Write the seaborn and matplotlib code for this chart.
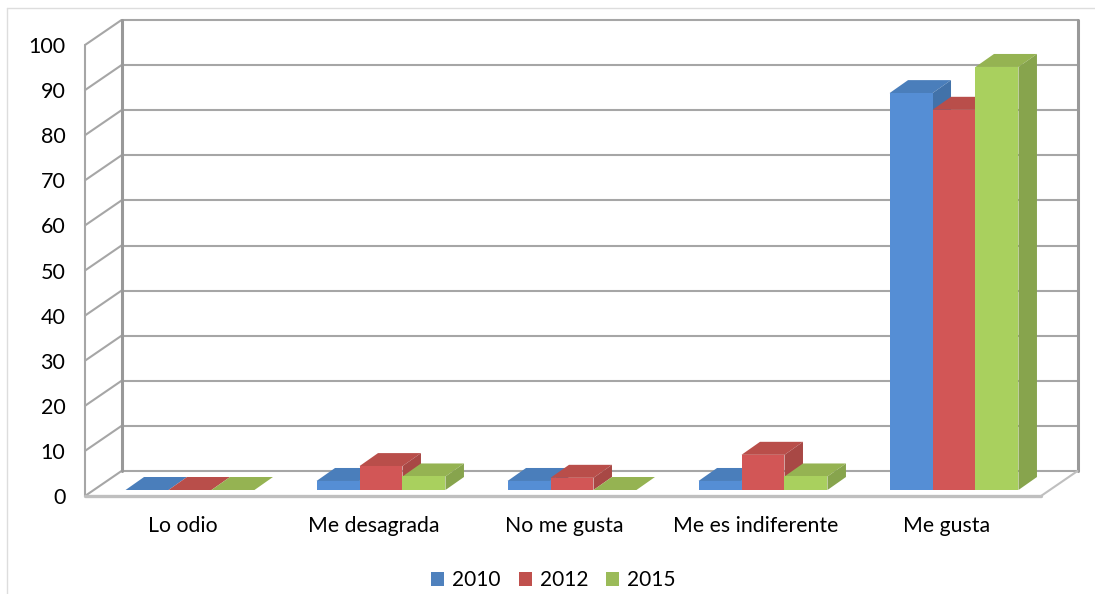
import pandas as pd
import matplotlib.pyplot as plt
import seaborn as sns
from matplotlib.lines import Line2D
from matplotlib.patches import Patch, Polygon

categories = ['Lo odio', 'Me desagrada', 'No me gusta', 'Me es indiferente', 'Me gusta']
years = ['2010', '2012', '2015']
values_2010 = [0, 2, 2, 2, 88]
values_2012 = [0, 5.3, 2.7, 7.8, 84.3]
values_2015 = [0, 3, 0, 3, 93.8]
y_ticks = [0, 10, 20, 30, 40, 50, 60, 70, 80, 90, 100]

front_colors = ['#558ED5', '#D25656', '#A9D05E']
top_colors = ['#4A7EBB', '#B94E4A', '#95B352']
side_colors = ['#4272A9', '#A84845', '#87A44D']
legend_colors = ['#4F81BD', '#C0504D', '#9BBB59']
GRID = '#A6A6A6'

# pixel scale of the plot, category step and one y unit
PX_X = 191.0
PX_Y = 4.51

# bar depth and floor depth, in data units
BAR_DX = 18.5 / PX_X
BAR_DY = 13 / PX_Y
FLOOR_DX = 36.5 / PX_X
FLOOR_DY = 25 / PX_Y
FRONT_X = -0.5 - 9.5 / PX_X
FRONT_Y = -6 / PX_Y


def main():
    df = pd.DataFrame({
        'category': categories * 3,
        'year': sum([[y] * len(categories) for y in years], []),
        'value': values_2010 + values_2012 + values_2015,
    })

    sns.set_style('white')
    plt.rcParams['font.family'] = ['Lato', 'DejaVu Sans']
    fig = plt.figure(figsize=(10.95, 5.94), dpi=100)

    # axes sized so x=-0.5..4.5 is 94.5..1049.5 px and y=0 is at 490 px
    y_min, y_max = -2, 106
    ax = fig.add_axes([94.5 / 1095, (594 - 490 + y_min * PX_Y) / 594,
                       955 / 1095, (y_max - y_min) * PX_Y / 594])

    sns.barplot(data=df, x='category', y='value', hue='year', order=categories,
                hue_order=years, palette=front_colors, width=0.675, saturation=1,
                legend=False, ax=ax)
    ax.set_xlim(-0.5, 4.5)
    ax.set_ylim(y_min, y_max)
    sns.despine(ax=ax, left=True, bottom=True)
    ax.set_xlabel('')
    ax.set_ylabel('')

    # walls and floor
    x_left = FRONT_X
    x_right = FRONT_X + 956 / PX_X
    for v in y_ticks:
        y_f = FRONT_Y + v
        ax.plot([x_left, x_left + FLOOR_DX], [y_f, y_f + FLOOR_DY], color=GRID, lw=1.5,
                clip_on=False, zorder=1)
        ax.plot([x_left + FLOOR_DX, x_right + FLOOR_DX], [y_f + FLOOR_DY] * 2, color=GRID,
                lw=1.5, clip_on=False, zorder=1)
    ax.plot([x_left, x_left], [FRONT_Y, FRONT_Y + 100], color=GRID, lw=1.5, clip_on=False, zorder=1)
    ax.plot([x_left + FLOOR_DX] * 2, [FRONT_Y + FLOOR_DY, FRONT_Y + FLOOR_DY + 100], color='#999999',
            lw=2.2, clip_on=False, zorder=1)
    ax.plot([x_right + FLOOR_DX] * 2, [FRONT_Y + FLOOR_DY, FRONT_Y + FLOOR_DY + 100], color='#999999',
            lw=2.2, clip_on=False, zorder=1)
    ax.plot([x_right, x_right + FLOOR_DX], [FRONT_Y, FRONT_Y + FLOOR_DY], color='#BFBFBF', lw=1.5,
            clip_on=False, zorder=1)
    ax.plot([x_left, x_right], [FRONT_Y, FRONT_Y], color='#BFBFBF', lw=2.4, clip_on=False, zorder=1)

    # top and side faces built from the seaborn bars
    for s, container in enumerate(ax.containers):
        for bar in container:
            x0 = bar.get_x()
            x1 = x0 + bar.get_width()
            h = bar.get_height()
            bar.set_zorder(4 + 2 * s)
            bar.set_linewidth(0)
            ax.add_patch(Polygon([(x0, h), (x1, h), (x1 + BAR_DX, h + BAR_DY), (x0 + BAR_DX, h + BAR_DY)],
                                 facecolor=top_colors[s], edgecolor='none', zorder=3 + 2 * s))
            ax.add_patch(Polygon([(x1, 0), (x1 + BAR_DX, BAR_DY), (x1 + BAR_DX, h + BAR_DY), (x1, h)],
                                 facecolor=side_colors[s], edgecolor='none', zorder=3 + 2 * s))

    ax.set_yticks([FRONT_Y + v for v in y_ticks])
    ax.set_yticklabels([str(v) for v in y_ticks])
    # category labels sit under the front edge of the floor, a bit left of the bars
    ax.set_xticks([i - 7.5 / PX_X for i in range(len(categories))])
    ax.set_xticklabels(categories)
    ax.tick_params(axis='y', length=0, pad=21, labelsize=15.5, labelcolor='black')
    ax.tick_params(axis='x', length=0, pad=12, labelsize=15.3, labelcolor='black')

    handles = [Patch(facecolor=c, edgecolor='none', label=y) for c, y in zip(legend_colors, years)]
    fig.legend(handles=handles, loc='center', bbox_to_anchor=(553.5 / 1095, 1 - 580.5 / 594), ncol=3,
               frameon=False, fontsize=15, handlelength=0.62, handleheight=0.62,
               handletextpad=0.4, columnspacing=0.85, borderpad=0, labelcolor='black')

    # thin border of the picture
    fig.add_artist(Line2D([7 / 1095, 7 / 1095], [0, 1 - 7.5 / 594], color='#DDDDDD', lw=1))
    fig.add_artist(Line2D([7 / 1095, 1], [1 - 7.5 / 594, 1 - 7.5 / 594], color='#DDDDDD', lw=1))

    fig.savefig('out.png', dpi=100)


if __name__ == "__main__":
    main()
